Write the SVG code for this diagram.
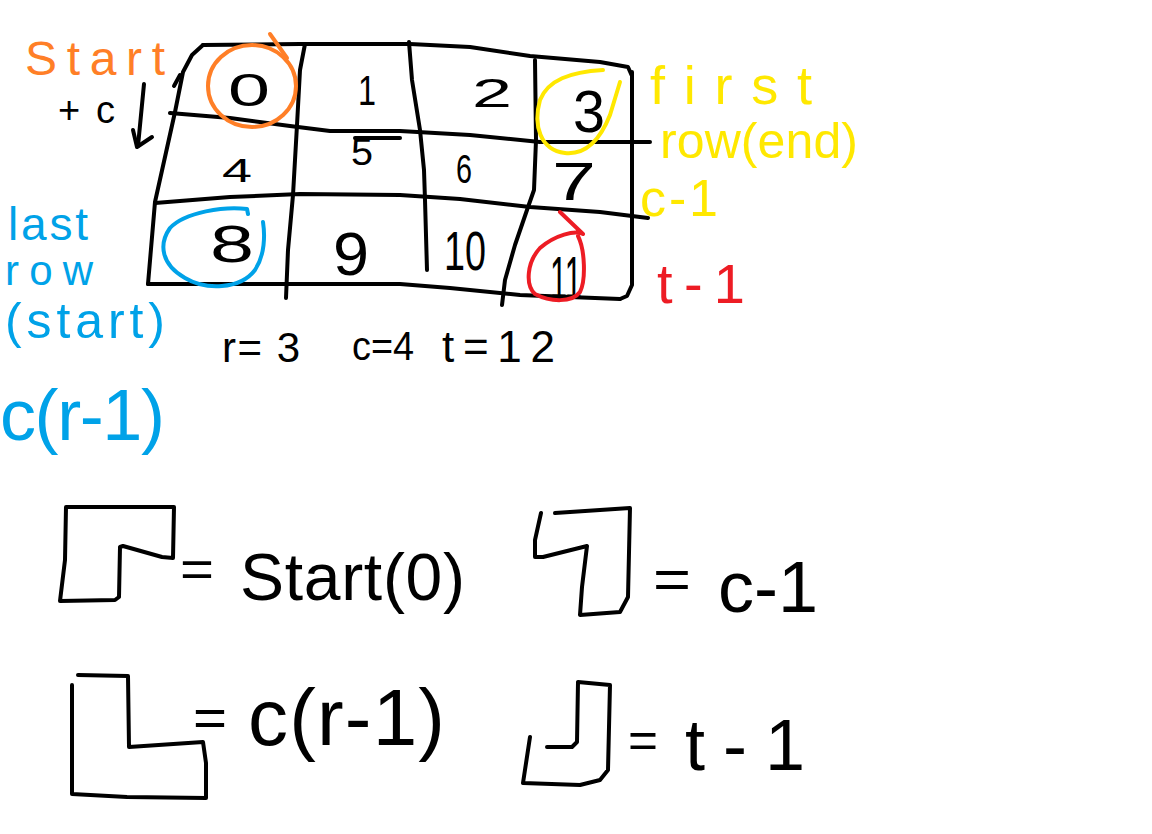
<svg xmlns="http://www.w3.org/2000/svg" width="1152" height="834" viewBox="0 0 1152 834">
<style>
.ln{fill:none;stroke:#000;stroke-width:4;stroke-linecap:round;stroke-linejoin:round}
.o{fill:none;stroke:#FF7F27;stroke-width:4;stroke-linecap:round;stroke-linejoin:round}
.b{fill:none;stroke:#00A2E8;stroke-width:4;stroke-linecap:round;stroke-linejoin:round}
.y{fill:none;stroke:#FFE800;stroke-width:4;stroke-linecap:round;stroke-linejoin:round}
.r{fill:none;stroke:#ED1C24;stroke-width:4;stroke-linecap:round;stroke-linejoin:round}
text{font-family:"Liberation Sans","DejaVu Sans",sans-serif;}
.k{fill:#000}
.to{fill:#FF7F27}
.tb{fill:#00A2E8}
.ty{fill:#FFE800}
.tr{fill:#ED1C24}
</style>
<rect width="1152" height="834" fill="#fff"/>

<g id="grid">
<path class="ln" d="M203,45 L300,44 L410,44 L470,47 L530,56 L600,62 L628,67 L632,76"/>
<path class="ln" d="M632,72 L632,285 L627,296 L620,299"/>
<path class="ln" d="M148,284 L300,284 L400,284 L450,288 L520,295 L620,299"/>
<path class="ln" d="M203,45 L192,55 L183,72 L175,112 L155,202 L148,284"/>
<path class="ln" d="M174,86 L180,75"/>
<path class="ln" d="M170,113 L230,118 L290,126 L330,131 L400,131 L470,135 L540,142 L650,142"/>
<path class="ln" d="M155,203 L230,197 L300,194 L400,195 L460,199 L530,207 L600,212 L648,218"/>
<path class="ln" d="M305,44 L300,70 L297,125 L293,195 L288,250 L286,298"/>
<path class="ln" d="M409,42 L412,80 L420,130 L424,170 L425,200 L427,270"/>
<path class="ln" d="M535,60 L536,140 L534,190 L527,210 L515,245 L505,280 L502,305"/>
<path class="ln" d="M355,138 L400,138"/>
</g>

<g id="cells">
<text class="k" x="228" y="106" font-size="46" textLength="42" lengthAdjust="spacingAndGlyphs">0</text>
<text class="k" x="358" y="105" font-size="42" textLength="18" lengthAdjust="spacingAndGlyphs">1</text>
<text class="k" x="472" y="107" font-size="40" textLength="40" lengthAdjust="spacingAndGlyphs">2</text>
<text class="k" x="573" y="132" font-size="60" textLength="32" lengthAdjust="spacingAndGlyphs">3</text>
<text class="k" x="222" y="182" font-size="34" textLength="30" lengthAdjust="spacingAndGlyphs">4</text>
<text class="k" x="351" y="165" font-size="36" textLength="22" lengthAdjust="spacingAndGlyphs">5</text>
<text class="k" x="456" y="183" font-size="40" textLength="16" lengthAdjust="spacingAndGlyphs">6</text>
<text class="k" x="552" y="200" font-size="54" textLength="44" lengthAdjust="spacingAndGlyphs">7</text>
<text class="k" x="210" y="262" font-size="52" textLength="44" lengthAdjust="spacingAndGlyphs">8</text>
<text class="k" x="333" y="275" font-size="62" textLength="36" lengthAdjust="spacingAndGlyphs">9</text>
<text class="k" x="444" y="270" font-size="56" textLength="42" lengthAdjust="spacingAndGlyphs">10</text>
<text class="k" x="550" y="299" font-size="62" textLength="32" lengthAdjust="spacingAndGlyphs">11</text>
</g>

<g id="highlights">
<ellipse class="o" cx="252" cy="86" rx="44" ry="41"/>
<path class="o" d="M270,34 L287,58"/>
<path class="b" d="M248,214 L247,209 C225,206 185,212 170,228 C158,245 162,265 185,278 C205,290 240,290 255,270 C265,255 265,235 263,222"/>
<path class="y" d="M603,70 C570,72 548,80 540,100 C533,125 540,150 565,153 C585,155 600,140 610,115 L620,82"/>
<path class="r" d="M560,212 L583,234 C575,230 555,235 540,248 C527,262 525,285 535,294 C550,302 572,303 580,292 C586,280 585,250 578,236"/>
</g>

<g id="connectors">
<path class="ln" d="M144,84 L138,146"/>
<path class="ln" d="M133,130 L137,147 L152,137"/>
</g>

<g id="labels">
<text class="to" x="25" y="75" font-size="48" textLength="140" lengthAdjust="spacing">Start</text>
<text class="k" x="58" y="123" font-size="38" textLength="57" lengthAdjust="spacing">+c</text>
<text class="ty" x="650" y="104" font-size="54" textLength="162" lengthAdjust="spacing">first</text>
<text class="ty" x="660" y="158" font-size="50" textLength="198" lengthAdjust="spacing">row(end)</text>
<text class="ty" x="640" y="216" font-size="52" textLength="78" lengthAdjust="spacing">c-1</text>
<text class="tr" x="657" y="303" font-size="56" textLength="88" lengthAdjust="spacing">t-1</text>
<text class="tb" x="8" y="240" font-size="46" textLength="80" lengthAdjust="spacing">last</text>
<text class="tb" x="5" y="285" font-size="42" textLength="88" lengthAdjust="spacing">row</text>
<text class="tb" x="5" y="338" font-size="50" textLength="160" lengthAdjust="spacing">(start)</text>
<text class="tb" x="0" y="440" font-size="72" textLength="165" lengthAdjust="spacing">c(r-1)</text>
<text class="k" x="222" y="362" font-size="42" textLength="78" lengthAdjust="spacing">r= 3</text>
<text class="k" x="352" y="360" font-size="40" textLength="62" lengthAdjust="spacingAndGlyphs">c=4</text>
<text class="k" x="442" y="362" font-size="44" textLength="113" lengthAdjust="spacing">t=12</text>
</g>

<g id="legend-start">
<path class="ln" d="M66,507 L174,507 L173,558 L162,557 L123,546 L120,547 L119,597 L115,600 L60,601 L65,560 Z"/>
<text class="k" x="180" y="587" font-size="52" textLength="34" lengthAdjust="spacingAndGlyphs">=</text>
<text class="k" x="240" y="600" font-size="66" textLength="225" lengthAdjust="spacing">Start(0)</text>
</g>

<g id="legend-firstrowend">
<path class="ln" d="M541,513 L535,540 L535,557 L543,557 L587,546 L582,587 L580,615 L620,612 L628,597 L630,508 L555,513"/>
<text class="k" x="653" y="598" font-size="56" textLength="38" lengthAdjust="spacingAndGlyphs">=</text>
<text class="k" x="718" y="612" font-size="72" textLength="100" lengthAdjust="spacing">c-1</text>
</g>

<g id="legend-lastrowstart">
<path class="ln" d="M78,675 L128,676 L129,747 L203,742 L206,763 L206,798 L127,797 L72,794 L72,685"/>
<text class="k" x="193" y="736" font-size="54" textLength="34" lengthAdjust="spacingAndGlyphs">=</text>
<text class="k" x="248" y="745" font-size="80" textLength="197" lengthAdjust="spacing">c(r-1)</text>
</g>

<g id="legend-end">
<path class="ln" d="M530,737 L523,783 L580,785 L600,780 L608,770 L610,685 L578,682 L577,742 L572,747 L547,747"/>
<text class="k" x="628" y="757" font-size="50" textLength="30" lengthAdjust="spacingAndGlyphs">=</text>
<text class="k" x="685" y="770" font-size="72" textLength="120" lengthAdjust="spacing">t-1</text>
</g>
</svg>
